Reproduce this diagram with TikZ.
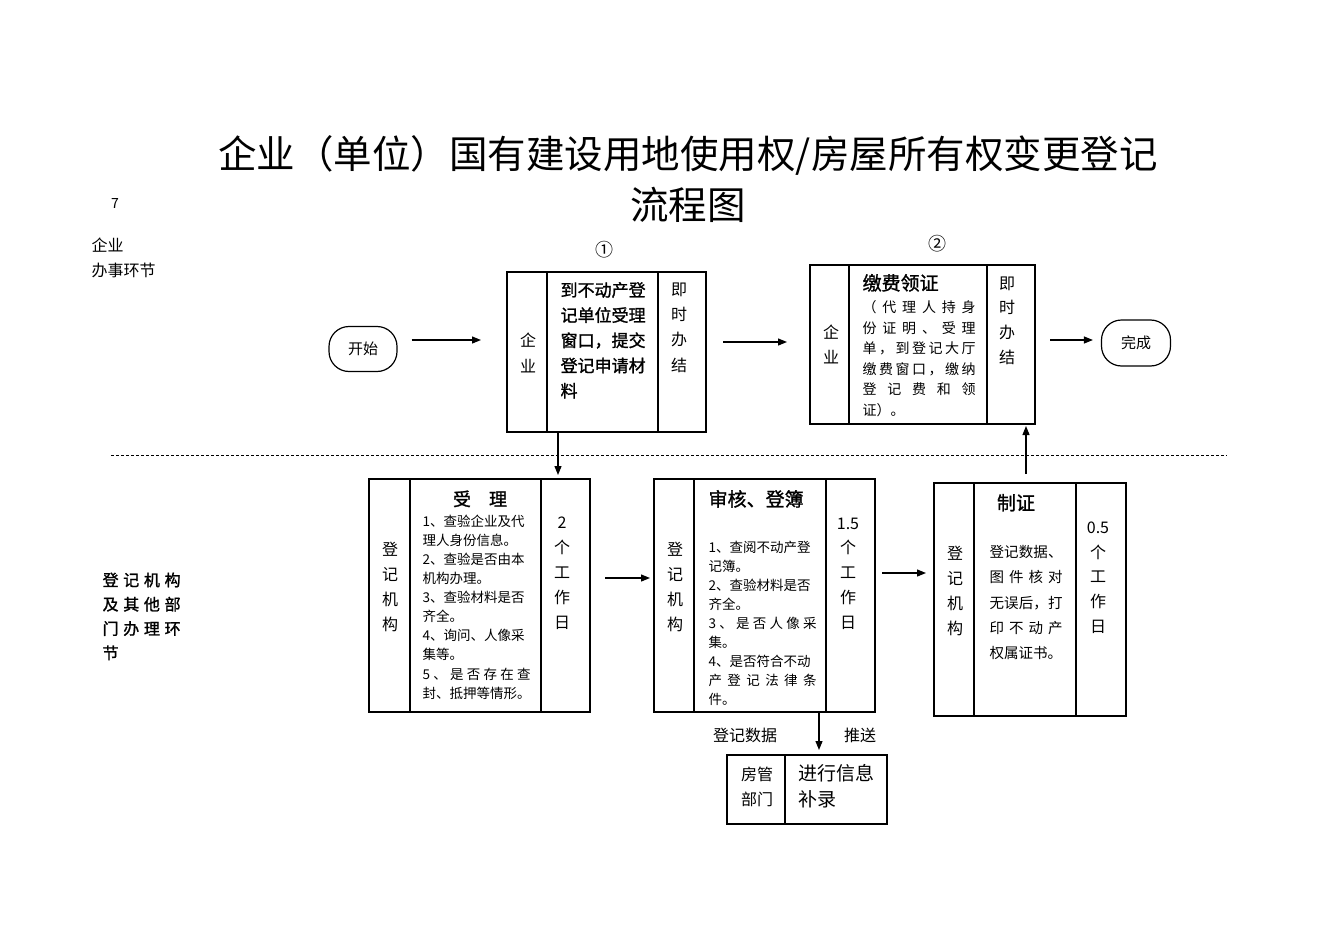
\documentclass[tikz,border=0pt]{standalone}
\usepackage{fontspec}
\setmainfont{Noto Sans CJK SC}
\newfontfamily\semibold[FakeBold=1.3]{Noto Sans CJK SC}
\usetikzlibrary{arrows.meta,positioning}

% 一行を指定幅に均等割り付け
\def\spreadloop#1{\ifx\relax#1\unskip\else#1\hfil\expandafter\spreadloop\fi}
\newcommand\spreadline[2]{\hbox to #1{\spreadloop#2\relax}}

\tikzset{
  cell/.style={draw, inner sep=0pt, outer sep=0pt, minimum height=#1},
  txt/.style={inner sep=0pt, anchor=north west, align=left},
  vtxt/.style={inner sep=0pt, anchor=north, align=center},
  arr/.style={-{Triangle[length=9pt,width=7pt]}, line width=1.2pt},
  term/.style={draw, rounded corners=20pt, minimum width=68pt, minimum height=45pt, font=\fontsize{15}{15}\selectfont},
}

\begin{document}
\begin{tikzpicture}[x=1pt, y=-1pt, line width=1.2pt]
  \useasboundingbox (0,0) rectangle (1337,941);

  % 标题
  \node[font=\fontsize{38.5}{51}\selectfont, align=center, anchor=north] (title) at (688,132)
    {企业（单位）国有建设用地使用权/房屋所有权变更登记\\流程图};
  \node[font=\fontsize{14}{14}\selectfont] (pg) at (115,204) {7};

  % 左侧环节说明
  \node[txt, font=\fontsize{16}{25}\selectfont] (lane1) at (91,237) {企业\\办事环节};
  \node[txt, font=\fontsize{16}{24.3}\selectfont\semibold] (lane2) at (102,572)
    {\spreadline{78pt}{登记机构}\\\spreadline{78pt}{及其他部}\\\spreadline{78pt}{门办理环}\\节};

  % 分隔虚线
  \draw[line width=0.8pt, dash pattern=on 3pt off 2pt] (111,455) -- (1227,455);

  % 开始・完成
  \node[term] (start) at (363,349) {开始};
  \node[term, minimum width=69pt, minimum height=46pt] (finish) at (1136,343) {完成};

  % 步骤1
  \node[font=\fontsize{18}{18}\selectfont] (n1) at (604,250) {①};
  \node[cell=160pt, minimum width=40pt, anchor=north west] (b1l) at (507,272) {};
  \node[cell=160pt, minimum width=111pt, right=0pt of b1l] (b1m) {};
  \node[cell=160pt, minimum width=48pt, right=0pt of b1m] (b1r) {};
  \node[vtxt, font=\fontsize{16}{26}\selectfont] (t1l) at (528,332) {企\\业};
  \node[txt, font=\fontsize{17}{25.2}\selectfont\semibold] (t1m) at (560,281.5)
    {到不动产登\\记单位受理\\窗口，提交\\登记申请材\\料};
  \node[vtxt, font=\fontsize{16}{25.3}\selectfont] (t1r) at (679,282) {即\\时\\办\\结};

  % 步骤2
  \node[font=\fontsize{18}{18}\selectfont] (n2) at (937,244) {②};
  \node[cell=159pt, minimum width=39pt, anchor=north west] (b2l) at (810,265) {};
  \node[cell=159pt, minimum width=138pt, right=0pt of b2l] (b2m) {};
  \node[cell=159pt, minimum width=48pt, right=0pt of b2m] (b2r) {};
  \node[vtxt, font=\fontsize{16}{25}\selectfont] (t2l) at (831,324) {企\\业};
  \node[txt, font=\fontsize{19}{19}\selectfont\semibold] (t2h) at (862,273.5) {缴费领证};
  \node[txt, font=\fontsize{14}{20.6}\selectfont] (t2m) at (862,300)
    {\spreadline{113pt}{（代理人持身}\\\spreadline{113pt}{份证明、受理}\\
     \spreadline{113pt}{单，到登记大厅}\\\spreadline{113pt}{缴费窗口，缴纳}\\
     \spreadline{113pt}{登记费和领}\\证）。};
  \node[vtxt, font=\fontsize{16}{24.7}\selectfont] (t2r) at (1007,276) {即\\时\\办\\结};

  % 受理
  \node[cell=233pt, minimum width=41pt, anchor=north west] (b3l) at (369,479) {};
  \node[cell=233pt, minimum width=131pt, right=0pt of b3l] (b3m) {};
  \node[cell=233pt, minimum width=49pt, right=0pt of b3m] (b3r) {};
  \node[vtxt, font=\fontsize{16}{25}\selectfont] (t3l) at (390,541) {登\\记\\机\\构};
  \node[vtxt, font=\fontsize{18}{18}\selectfont\semibold] (t3h) at (480,490) {受\quad 理};
  \node[txt, font=\fontsize{13.5}{19.1}\selectfont] (t3m) at (422,514.2)
    {1、查验企业及代\\理人身份信息。\\2、查验是否由本\\机构办理。\\3、查验材料是否\\齐全。\\
     4、询问、人像采\\集等。\\\spreadline{108pt}{5、是否存在查}\\封、抵押等情形。};
  \node[vtxt, font=\fontsize{16}{25}\selectfont] (t3r) at (562,516) {2\\个\\工\\作\\日};

  % 审核、登簿
  \node[cell=233pt, minimum width=40pt, anchor=north west] (b4l) at (654,479) {};
  \node[cell=233pt, minimum width=132pt, right=0pt of b4l] (b4m) {};
  \node[cell=233pt, minimum width=49pt, right=0pt of b4m] (b4r) {};
  \node[vtxt, font=\fontsize{16}{25}\selectfont] (t4l) at (675,541) {登\\记\\机\\构};
  \node[txt, font=\fontsize{19}{19}\selectfont\semibold] (t4h) at (708,489.5) {审核、登簿};
  \node[txt, font=\fontsize{13.5}{19.1}\selectfont] (t4m) at (708,540.2)
    {1、查阅不动产登\\记簿。\\2、查验材料是否\\齐全。\\\spreadline{108pt}{3、是否人像采}\\集。\\
     4、是否符合不动\\\spreadline{108pt}{产登记法律条}\\件。};
  \node[vtxt, font=\fontsize{16}{24.8}\selectfont] (t4r) at (848,517) {1.5\\个\\工\\作\\日};

  % 制证
  \node[cell=233pt, minimum width=40pt, anchor=north west] (b5l) at (934,483) {};
  \node[cell=233pt, minimum width=102pt, right=0pt of b5l] (b5m) {};
  \node[cell=233pt, minimum width=50pt, right=0pt of b5m] (b5r) {};
  \node[vtxt, font=\fontsize{16}{25}\selectfont] (t5l) at (955,545) {登\\记\\机\\构};
  \node[vtxt, font=\fontsize{19}{19}\selectfont\semibold] (t5h) at (1016,493.5) {制证};
  \node[txt, font=\fontsize{14.5}{25.25}\selectfont] (t5m) at (989,544.8)
    {\spreadline{73pt}{登记数据、}\\\spreadline{73pt}{图件核对}\\\spreadline{73pt}{无误后，打}\\
     \spreadline{73pt}{印不动产}\\权属证书。};
  \node[vtxt, font=\fontsize{16}{24.8}\selectfont] (t5r) at (1098,521) {0.5\\个\\工\\作\\日};

  % 房管部门
  \node[cell=69pt, minimum width=58pt, anchor=north west] (b6l) at (727,755) {};
  \node[cell=69pt, minimum width=102pt, right=0pt of b6l] (b6r) {};
  \node[vtxt, font=\fontsize{16}{25}\selectfont] (t6l) at (757,766) {房管\\部门};
  \node[txt, font=\fontsize{19}{26}\selectfont] (t6r) at (798,763.5) {进行信息\\补录};
  \node[font=\fontsize{16}{16}\selectfont] (push1) at (745,735) {登记数据};
  \node[font=\fontsize{16}{16}\selectfont] (push2) at (860,735) {推送};

  % 箭头
  \draw[arr, shorten <=14pt, shorten >=26pt] (start.east |- 0,340) -- (b1l.west |- 0,340);
  \draw[arr, shorten <=17pt, shorten >=23pt] (b1r.east |- 0,342) -- (b2l.west |- 0,342);
  \draw[arr, shorten <=15pt, shorten >=8pt] (b2r.east |- 0,340) -- (finish.west |- 0,340);
  \draw[arr, shorten >=4pt] (b1m.south -| 558,0) -- (b3r.north -| 558,0);
  \draw[arr, shorten <=15pt, shorten >=4pt] (b3r.east |- 0,578) -- (b4l.west |- 0,578);
  \draw[arr, shorten <=7pt, shorten >=8pt] (b4r.east |- 0,573) -- (b5l.west |- 0,573);
  \draw[arr, shorten <=9pt, shorten >=2pt] (b5m.north -| 1026,0) -- (b2r.south -| 1026,0);
  \draw[arr, shorten >=5pt] (b4m.south -| 819,0) -- (b6r.north -| 819,0);
\end{tikzpicture}
\end{document}
